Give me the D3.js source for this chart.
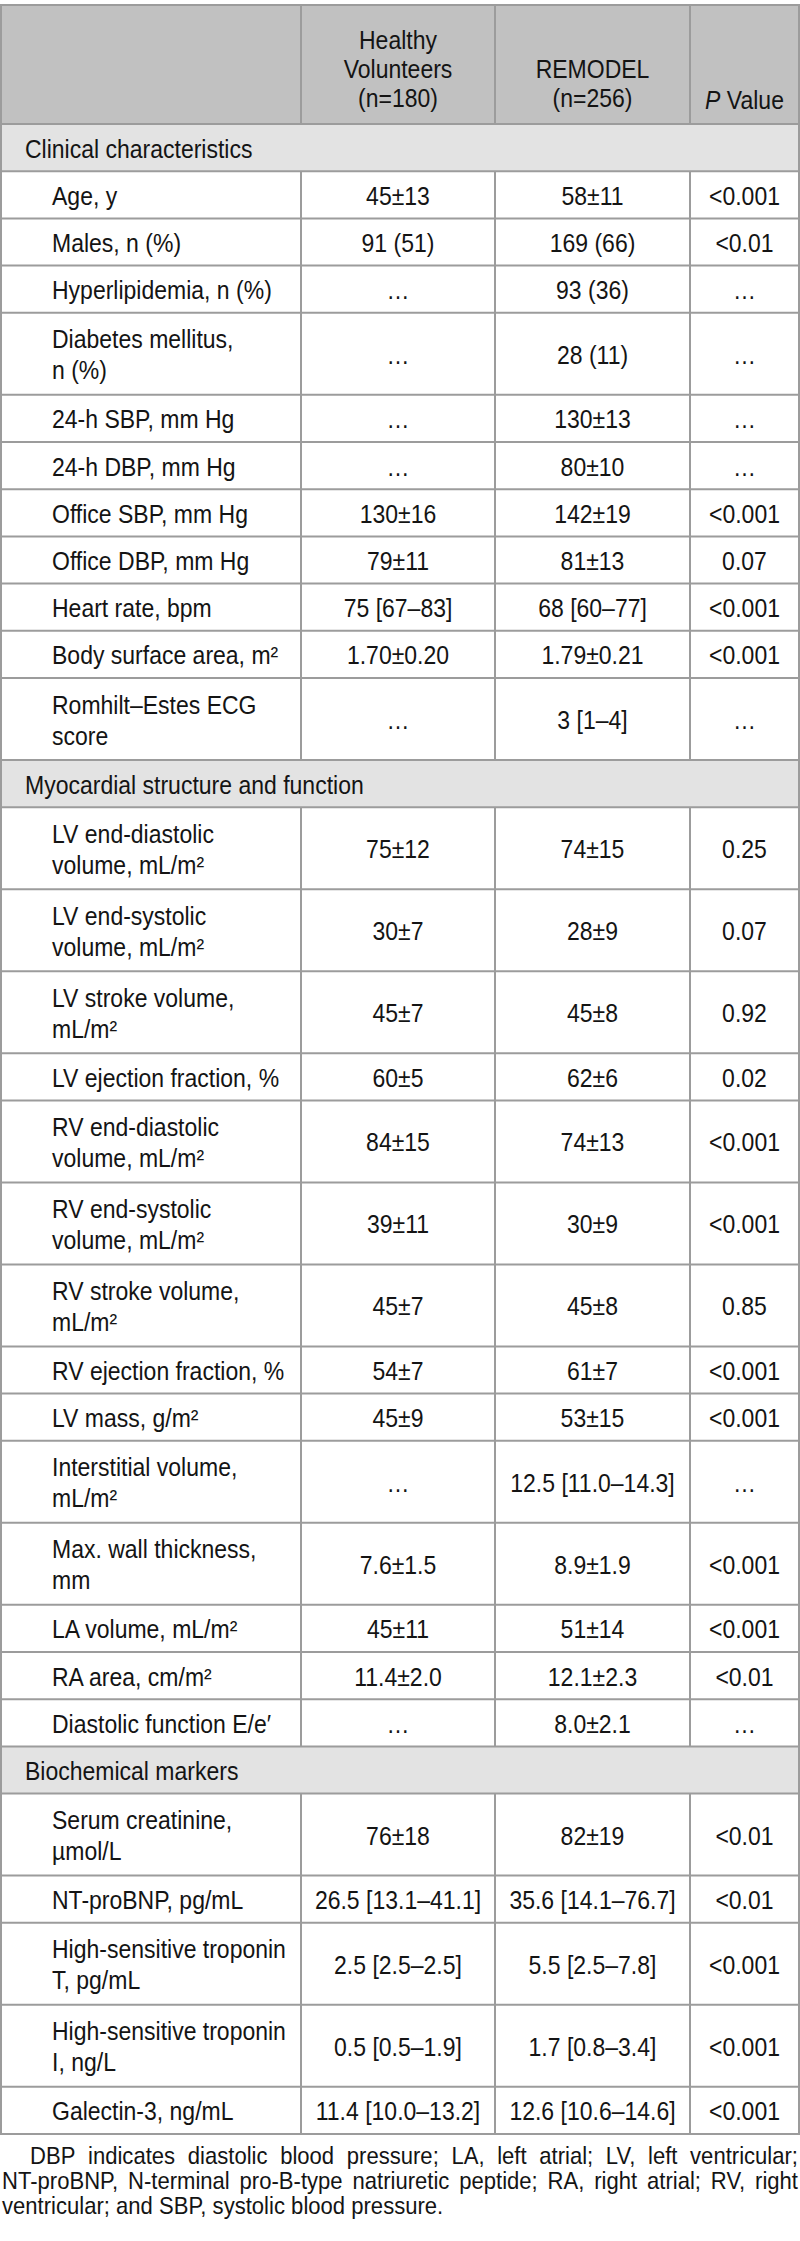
<!DOCTYPE html>
<html>
<head>
<meta charset="utf-8">
<script src="https://cdn.jsdelivr.net/npm/d3@7"></script>
<style>
  body { margin: 0; background: #fff; }
  svg { display: block; font-family: "Liberation Sans", Arial, sans-serif; }
</style>
</head>
<body>
<script>
// table content, one entry per body row
const sections = ["Clinical characteristics", "Myocardial structure and function", "Biochemical markers"];
const sectionSizes = [11, 14, 5];

const labels = [
  ["Age, y"], ["Males, n (%)"], ["Hyperlipidemia, n (%)"], ["Diabetes mellitus,", "n (%)"],
  ["24-h SBP, mm Hg"], ["24-h DBP, mm Hg"], ["Office SBP, mm Hg"], ["Office DBP, mm Hg"],
  ["Heart rate, bpm"], ["Body surface area, m²"], ["Romhilt–Estes ECG", "score"],
  ["LV end-diastolic", "volume, mL/m²"], ["LV end-systolic", "volume, mL/m²"],
  ["LV stroke volume,", "mL/m²"], ["LV ejection fraction, %"],
  ["RV end-diastolic", "volume, mL/m²"], ["RV end-systolic", "volume, mL/m²"],
  ["RV stroke volume,", "mL/m²"], ["RV ejection fraction, %"], ["LV mass, g/m²"],
  ["Interstitial volume,", "mL/m²"], ["Max. wall thickness,", "mm"], ["LA volume, mL/m²"],
  ["RA area, cm/m²"], ["Diastolic function E/e′"],
  ["Serum creatinine,", "µmol/L"], ["NT-proBNP, pg/mL"], ["High-sensitive troponin", "T, pg/mL"],
  ["High-sensitive troponin", "I, ng/L"], ["Galectin-3, ng/mL"]
];
const healthy = [
  "45±13", "91 (51)", "…", "…", "…", "…", "130±16", "79±11", "75 [67–83]", "1.70±0.20", "…",
  "75±12", "30±7", "45±7", "60±5", "84±15", "39±11", "45±7", "54±7", "45±9", "…", "7.6±1.5",
  "45±11", "11.4±2.0", "…",
  "76±18", "26.5 [13.1–41.1]", "2.5 [2.5–2.5]", "0.5 [0.5–1.9]", "11.4 [10.0–13.2]"
];
const remodel = [
  "58±11", "169 (66)", "93 (36)", "28 (11)", "130±13", "80±10", "142±19", "81±13", "68 [60–77]", "1.79±0.21", "3 [1–4]",
  "74±15", "28±9", "45±8", "62±6", "74±13", "30±9", "45±8", "61±7", "53±15", "12.5 [11.0–14.3]", "8.9±1.9",
  "51±14", "12.1±2.3", "8.0±2.1",
  "82±19", "35.6 [14.1–76.7]", "5.5 [2.5–7.8]", "1.7 [0.8–3.4]", "12.6 [10.6–14.6]"
];
const pValues = [
  "<0.001", "<0.01", "…", "…", "…", "…", "<0.001", "0.07", "<0.001", "<0.001", "…",
  "0.25", "0.07", "0.92", "0.02", "<0.001", "<0.001", "0.85", "<0.001", "<0.001", "…", "<0.001",
  "<0.001", "<0.01", "…",
  "<0.01", "<0.01", "<0.001", "<0.001", "<0.001"
];
const headHealthy = ["Healthy", "Volunteers", "(n=180)"];
const headRemodel = ["REMODEL", "(n=256)"];
const footnote = [
  "DBP indicates diastolic blood pressure; LA, left atrial; LV, left ventricular;",
  "NT-proBNP, N-terminal pro-B-type natriuretic peptide; RA, right atrial; RV, right",
  "ventricular; and SBP, systolic blood pressure."
];

const width = 800, height = 2241;
const sx = 0.92;            // the original face is a little condensed
const colX = [1, 301, 495, 690, 799];
const tableTop = 5, headH = 119, oneH = 47.2, twoH = 82;
const lineGap = 31;
const grid = "#9c9c9c";

const svg = d3.select("body").append("svg")
  .attr("width", width).attr("height", height);

// build the row list (section bands + data rows) with their y positions
let rows = [];
let idx = 0;
sections.forEach((s, si) => {
  rows.push({ band: true, text: s });
  for (let k = 0; k < sectionSizes[si]; k++, idx++) {
    rows.push({ band: false, i: idx });
  }
});
let y = tableTop + headH;
rows.forEach(r => {
  r.h = r.band ? oneH : (labels[r.i].length > 1 ? twoH : oneH);
  r.y = y;
  y += r.h;
});
const tableBottom = y;

function txt(g, x, yy, s, anchor, size) {
  return g.append("text")
    .attr("transform", `translate(${x},${yy}) scale(${sx},1)`)
    .attr("text-anchor", anchor || "start")
    .attr("font-size", size || 25)
    .attr("fill", "#141414")
    .text(s);
}

// backgrounds
svg.append("rect").attr("x", colX[0]).attr("y", tableTop).attr("width", colX[4] - colX[0]).attr("height", headH)
  .attr("fill", "#c1c1c1");
svg.selectAll("rect.band").data(rows.filter(r => r.band)).enter().append("rect")
  .attr("class", "band")
  .attr("x", colX[0]).attr("y", d => d.y).attr("width", colX[4] - colX[0]).attr("height", d => d.h)
  .attr("fill", "#e3e3e3");

// header text
const centers = [0, 1, 2, 3].map(c => (colX[c] + colX[c + 1]) / 2);
const headBase = tableTop + 102;
headHealthy.forEach((s, k) => txt(svg, centers[1], headBase - (headHealthy.length - 1 - k) * 29, s, "middle"));
headRemodel.forEach((s, k) => txt(svg, centers[2], headBase - (headRemodel.length - 1 - k) * 29, s, "middle"));
const pv = txt(svg, centers[3], headBase + 2, "", "middle");
pv.append("tspan").attr("font-style", "italic").text("P");
pv.append("tspan").text(" Value");

// body text
rows.forEach(r => {
  const mid = r.y + r.h / 2;
  if (r.band) {
    txt(svg, 25, mid + 10, r.text);
    return;
  }
  const ls = labels[r.i];
  ls.forEach((s, k) => txt(svg, 52, mid + 10 + (k - (ls.length - 1) / 2) * lineGap, s));
  [healthy, remodel, pValues].forEach((col, c) => {
    txt(svg, centers[c + 1], mid + 10, col[r.i], "middle");
  });
});

// grid lines
const hy = [tableTop, tableTop + headH].concat(rows.map(r => r.y + r.h));
svg.selectAll("line.h").data(hy).enter().append("line")
  .attr("x1", colX[0] - 1).attr("x2", colX[4] + 1)
  .attr("y1", d => d).attr("y2", d => d)
  .attr("stroke", grid).attr("stroke-width", 2);
const vsegs = [{ y0: tableTop, y1: tableTop + headH }].concat(rows.filter(r => !r.band).map(r => ({ y0: r.y, y1: r.y + r.h })));
[1, 2, 3].forEach(c => {
  svg.selectAll("line.v" + c).data(vsegs).enter().append("line")
    .attr("x1", colX[c]).attr("x2", colX[c])
    .attr("y1", d => d.y0).attr("y2", d => d.y1)
    .attr("stroke", grid).attr("stroke-width", 2);
});
[colX[0], colX[4]].forEach(x => {
  svg.append("line").attr("x1", x).attr("x2", x).attr("y1", tableTop).attr("y2", tableBottom)
    .attr("stroke", grid).attr("stroke-width", 2);
});

// footnote, justified like the printed one
const noteTop = tableBottom + 30;
footnote.forEach((line, li) => {
  const x0 = li === 0 ? 30 : 2;
  const x1 = 798;
  const by = noteTop + li * 25;
  const words = line.split(" ");
  const nodes = words.map(w => txt(svg, 0, by, w, "start", 24));
  const ws = nodes.map(n => n.node().getComputedTextLength() * sx);
  const total = d3.sum(ws);
  const last = li === footnote.length - 1;
  const gap = last ? 24 * 0.278 * sx : (x1 - x0 - total) / (words.length - 1);
  let x = x0;
  nodes.forEach((n, k) => {
    n.attr("transform", `translate(${x},${by}) scale(${sx},1)`);
    x += ws[k] + gap;
  });
});
</script>
</body>
</html>
